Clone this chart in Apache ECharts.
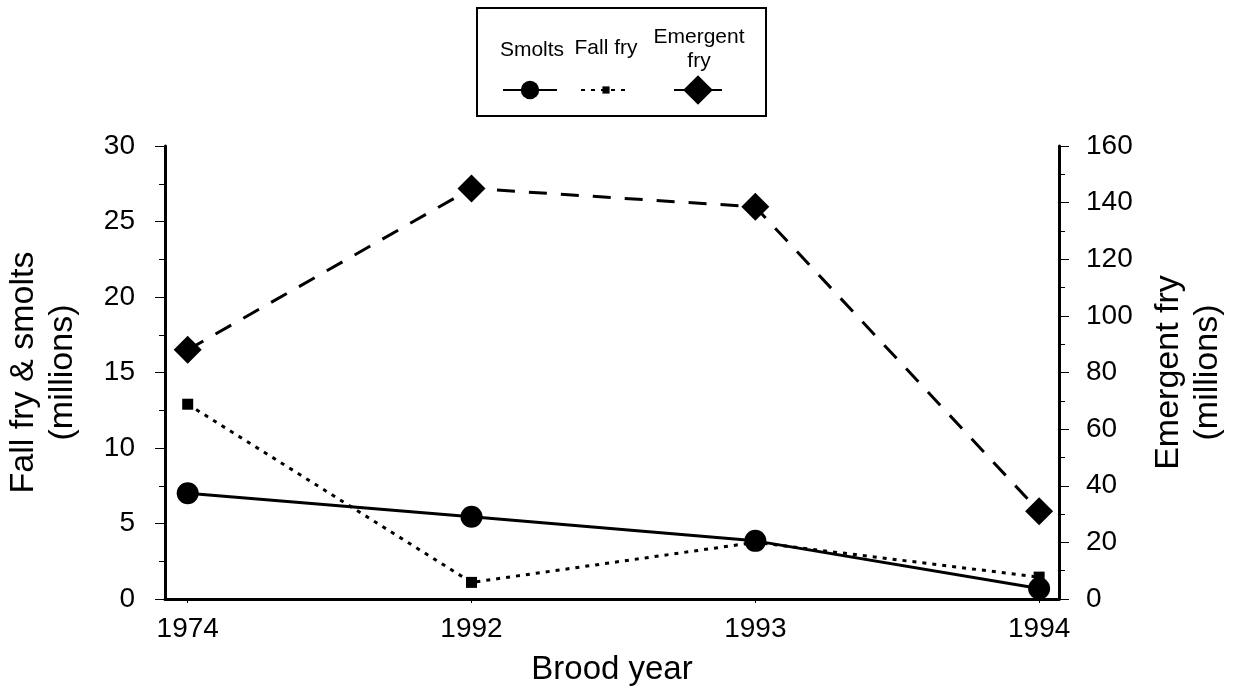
<!DOCTYPE html>
<html>
<head>
<meta charset="utf-8">
<script src="https://cdn.jsdelivr.net/npm/echarts@6/dist/echarts.min.js"></script>
<style>
  html, body { margin: 0; padding: 0; background: #fff; }
  #main { width: 1238px; height: 691px; }
</style>
</head>
<body>
<div id="main"></div>
<script>
// brood years and values
var years = ['1974', '1992', '1993', '1994'];
var smolts = [7.0, 5.45, 3.85, 0.7];        // millions, left axis
var fallFry = [12.9, 1.1, 3.75, 1.45];      // millions, left axis
var emergentFry = [88, 145, 138.5, 31];     // millions, right axis

function pairs(arr) {
    var out = [];
    for (var i = 0; i < arr.length; i++) {
        out.push([i, arr[i]]);
    }
    return out;
}

var font = 'Liberation Sans, Arial, sans-serif';
var chart = echarts.init(document.getElementById('main'));

// one legend per item so each symbol gets its own size
function legendItem(name, cx, w, h) {
    return {
        data: [name],
        left: cx - w / 2, top: 90 - h / 2,
        padding: 0,
        itemWidth: w, itemHeight: h,
        formatter: function () { return ''; },
        selectedMode: false
    };
}

var option = {
    animation: false,
    backgroundColor: '#fff',
    textStyle: { fontFamily: font, color: '#000' },
    grid: { left: 165, right: 179, top: 146, bottom: 92, outerBoundsMode: 'none' },
    legend: [
        legendItem('Smolts', 529, 54, 23),
        legendItem('Fall fry', 605, 50, 9),
        legendItem('Emergent fry', 697, 48, 37)
    ],
    graphic: [
        { type: 'rect', shape: { x: 477, y: 8, width: 289, height: 108 },
          style: { fill: 'none', stroke: '#000', lineWidth: 2 } },
        { type: 'text', x: 532, y: 50, style: { text: 'Smolts', font: '21px ' + font, fill: '#000', align: 'center', verticalAlign: 'middle' } },
        { type: 'text', x: 606, y: 48, style: { text: 'Fall fry', font: '21px ' + font, fill: '#000', align: 'center', verticalAlign: 'middle' } },
        { type: 'text', x: 699, y: 37, style: { text: 'Emergent', font: '21px ' + font, fill: '#000', align: 'center', verticalAlign: 'middle' } },
        { type: 'text', x: 699, y: 61, style: { text: 'fry', font: '21px ' + font, fill: '#000', align: 'center', verticalAlign: 'middle' } }
    ],
    xAxis: {
        type: 'value',
        min: -0.08, max: 3.07,
        name: 'Brood year',
        nameLocation: 'middle',
        nameGap: 54,
        nameTextStyle: { fontSize: 33, color: '#000' },
        splitLine: { show: false },
        axisLine: { onZero: false, lineStyle: { color: '#000', width: 3 } },
        axisTick: { customValues: [0, 1, 2, 3], length: 4, lineStyle: { color: '#000', width: 1 } },
        axisLabel: {
            customValues: [0, 1, 2, 3],
            fontSize: 28, color: '#000', margin: 16,
            formatter: function (v) { return years[Math.round(v)]; }
        }
    },
    yAxis: [
        {
            type: 'value', position: 'left',
            min: 0, max: 30, interval: 5,
            name: 'Fall fry & smolts\n(millions)',
            nameLocation: 'middle', nameGap: 83, nameRotate: 90,
            nameTextStyle: { fontSize: 34, color: '#000', lineHeight: 39 },
            splitLine: { show: false },
            axisLine: { show: true, onZero: false, lineStyle: { color: '#000', width: 3 } },
            axisTick: { show: true, length: 10, lineStyle: { color: '#000', width: 1 } },
            minorTick: { show: true, splitNumber: 2, length: 6, lineStyle: { color: '#000', width: 1 } },
            axisLabel: { fontSize: 28, color: '#000', margin: 30 }
        },
        {
            type: 'value', position: 'right',
            min: 0, max: 160, interval: 20,
            name: 'Emergent fry\n(millions)',
            nameLocation: 'middle', nameGap: 90, nameRotate: 90,
            nameTextStyle: { fontSize: 34, color: '#000', lineHeight: 39 },
            splitLine: { show: false },
            axisLine: { show: true, onZero: false, lineStyle: { color: '#000', width: 3 } },
            axisTick: { show: true, length: 10, lineStyle: { color: '#000', width: 1 } },
            minorTick: { show: true, splitNumber: 2, length: 6, lineStyle: { color: '#000', width: 1 } },
            axisLabel: { fontSize: 28, color: '#000', margin: 27 }
        }
    ],
    series: [
        {
            name: 'Smolts', type: 'line', yAxisIndex: 0,
            data: pairs(smolts),
            symbol: 'circle', symbolSize: 22,
            itemStyle: { color: '#000' },
            lineStyle: { color: '#000', width: 3, type: 'solid' },
            z: 3
        },
        {
            name: 'Fall fry', type: 'line', yAxisIndex: 0,
            data: pairs(fallFry),
            symbol: 'rect', symbolSize: 11,
            itemStyle: { color: '#000' },
            lineStyle: { color: '#000', width: 3, type: [4, 6] },
            z: 2
        },
        {
            name: 'Emergent fry', type: 'line', yAxisIndex: 1,
            data: pairs(emergentFry),
            symbol: 'diamond', symbolSize: 28,
            itemStyle: { color: '#000' },
            lineStyle: { color: '#000', width: 3, type: [18, 14] },
            z: 2
        }
    ]
};

chart.setOption(option);
</script>
</body>
</html>
